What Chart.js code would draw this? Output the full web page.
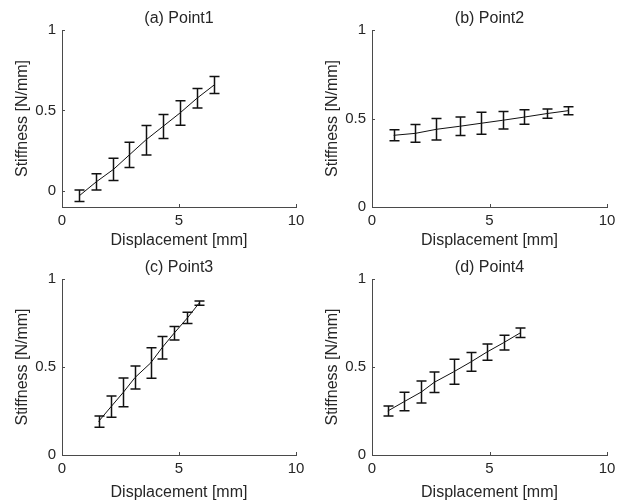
<!DOCTYPE html>
<html>
<head>
<meta charset="utf-8">
<script src="https://cdn.jsdelivr.net/npm/chart.js@4.4.1/dist/chart.umd.min.js"></script>
<style>
    body { margin: 0; background: #fff; }
    .panel { position: absolute; }
</style>
</head>
<body>
<div class="panel" style="left:0px; top:0px; width:310px; height:250px"><canvas id="c1" width="310" height="250"></canvas></div>
<div class="panel" style="left:310px; top:0px; width:315px; height:250px"><canvas id="c2" width="315" height="250"></canvas></div>
<div class="panel" style="left:0px; top:250px; width:310px; height:252px"><canvas id="c3" width="310" height="252"></canvas></div>
<div class="panel" style="left:310px; top:250px; width:315px; height:252px"><canvas id="c4" width="315" height="252"></canvas></div>
<script>
// values
const titles = ['(a) Point1', '(b) Point2', '(c) Point3', '(d) Point4']

const disp1 = [0.74, 1.46, 2.2, 2.88, 3.57, 4.31, 5.04, 5.77, 6.5]
const stiff1 = [-0.03, 0.056, 0.134, 0.224, 0.315, 0.4, 0.484, 0.576, 0.658]
const err1 = [0.036, 0.05, 0.069, 0.079, 0.092, 0.075, 0.076, 0.06, 0.053]

const disp2 = [0.92, 1.84, 2.74, 3.73, 4.64, 5.56, 6.48, 7.45, 8.34]
const stiff2 = [0.405, 0.416, 0.439, 0.456, 0.473, 0.49, 0.508, 0.528, 0.544]
const err2 = [0.031, 0.05, 0.061, 0.052, 0.062, 0.05, 0.041, 0.026, 0.023]

const disp3 = [1.56, 2.1, 2.62, 3.12, 3.79, 4.28, 4.79, 5.36, 5.86]
const stiff3 = [0.19, 0.275, 0.356, 0.44, 0.523, 0.61, 0.692, 0.779, 0.863]
const err3 = [0.032, 0.06, 0.082, 0.065, 0.087, 0.064, 0.038, 0.032, 0.012]

const disp4 = [0.67, 1.38, 2.1, 2.65, 3.48, 4.21, 4.89, 5.6, 6.31]
const stiff4 = [0.25, 0.304, 0.358, 0.413, 0.473, 0.529, 0.585, 0.638, 0.694]
const err4 = [0.029, 0.053, 0.063, 0.058, 0.071, 0.053, 0.046, 0.042, 0.027]

const xTicks = [0, 5, 10]
const yTicks = [0, 0.5, 1]
const yMins = [-0.1, 0, 0, 0]

const xLabel = 'Displacement [mm]'
const yLabel = 'Stiffness [N/mm]'

const fontFamily = '"Liberation Sans", Arial, sans-serif'
const textColor = '#262626'
const axisColor = '#4a4a4a'

// error bars, tick marks and panel title
const extras = {
    id: 'extras',
    afterDatasetsDraw: (chart, args, opts) => {
        const ctx = chart.ctx
        const xs = chart.scales.x
        const ys = chart.scales.y
        const area = chart.chartArea

        ctx.save()
        ctx.strokeStyle = '#111'
        ctx.lineWidth = 1.5
        opts.xs.forEach((xv, i) => {
            const px = Math.round(xs.getPixelForValue(xv)) + 0.5
            const top = ys.getPixelForValue(opts.ys[i] + opts.err[i])
            const bot = ys.getPixelForValue(opts.ys[i] - opts.err[i])
            ctx.beginPath()
            ctx.moveTo(px, top)
            ctx.lineTo(px, bot)
            ctx.moveTo(px - 5, top)
            ctx.lineTo(px + 5, top)
            ctx.moveTo(px - 5, bot)
            ctx.lineTo(px + 5, bot)
            ctx.stroke()
        })

        // inward tick marks
        ctx.strokeStyle = axisColor
        ctx.lineWidth = 1
        ctx.beginPath()
        xTicks.forEach(t => {
            const px = Math.round(xs.getPixelForValue(t)) + 0.5
            ctx.moveTo(px, area.bottom)
            ctx.lineTo(px, area.bottom - 3)
        })
        yTicks.forEach(t => {
            const py = Math.round(ys.getPixelForValue(t)) + 0.5
            ctx.moveTo(area.left, py)
            ctx.lineTo(area.left + 3, py)
        })
        ctx.stroke()

        ctx.fillStyle = textColor
        ctx.font = '16px ' + fontFamily
        ctx.textAlign = 'center'
        ctx.textBaseline = 'middle'
        ctx.fillText(opts.title, (area.left + area.right) / 2, area.top - 11)
        ctx.restore()
    }
}

function makeChart(id, idx, xs, ys, err, padTop, padRight, xHeight) {
    new Chart(document.getElementById(id), {
        type: 'scatter',
        data: {
            datasets: [{
                data: xs.map((x, i) => ({ x: x, y: ys[i] })),
                showLine: true,
                borderColor: '#111',
                borderWidth: 1,
                pointRadius: 0
            }]
        },
        options: {
            responsive: false,
            animation: false,
            layout: { padding: { top: padTop, right: padRight, left: 0, bottom: 0 } },
            plugins: {
                legend: { display: false },
                tooltip: { enabled: false },
                extras: { xs: xs, ys: ys, err: err, title: titles[idx] }
            },
            scales: {
                x: {
                    type: 'linear',
                    min: 0,
                    max: 10,
                    afterBuildTicks: (scale) => { scale.ticks = xTicks.map(v => ({ value: v })) },
                    afterFit: (scale) => { scale.height = xHeight },
                    grid: { display: false, drawTicks: false },
                    border: { display: true, color: axisColor, width: 1 },
                    ticks: { color: textColor, padding: 5, maxRotation: 0, callback: v => String(v), font: { family: fontFamily, size: 15 } },
                    title: { display: true, text: xLabel, color: textColor, padding: { top: 0, bottom: 0 }, font: { family: fontFamily, size: 16 } }
                },
                y: {
                    type: 'linear',
                    min: yMins[idx],
                    max: 1,
                    afterBuildTicks: (scale) => { scale.ticks = yTicks.map(v => ({ value: v })) },
                    afterFit: (scale) => { scale.width = 62 },
                    grid: { display: false, drawTicks: false },
                    border: { display: true, color: axisColor, width: 1 },
                    ticks: { color: textColor, padding: 6, callback: v => String(v), font: { family: fontFamily, size: 15 } },
                    title: { display: true, text: yLabel, color: textColor, padding: { top: 13, bottom: 0 }, font: { family: fontFamily, size: 16 } }
                }
            }
        },
        plugins: [extras]
    })
}

makeChart('c1', 0, disp1, stiff1, err1, 30, 14, 43)
makeChart('c2', 1, disp2, stiff2, err2, 30, 18, 43)
makeChart('c3', 2, disp3, stiff3, err3, 29, 14, 47)
makeChart('c4', 3, disp4, stiff4, err4, 29, 18, 47)
</script>
</body>
</html>
